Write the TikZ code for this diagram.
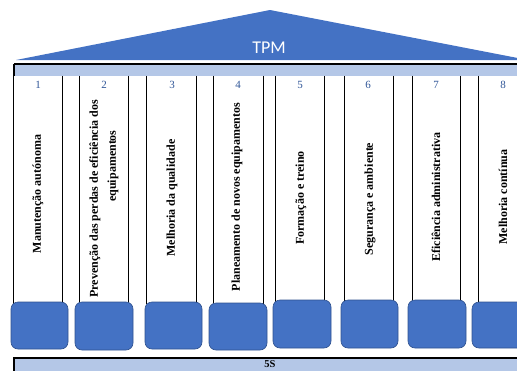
\documentclass[tikz,border=0pt]{standalone}
\usepackage{fontspec}
\setmainfont{Liberation Serif}
\newfontfamily\calibri{Carlito}
\definecolor{roofblue}{HTML}{4472C4}
\definecolor{edgeblue}{HTML}{2F528F}
\definecolor{bandblue}{HTML}{B4C7E7}
\definecolor{numblue}{HTML}{2F5597}
\begin{document}
\begin{tikzpicture}[x=1pt,y=-1pt,
  frame/.style={line width=1.3pt,black},
  post/.style={line width=1.1pt,black},
  base/.style={rectangle,rounded corners=7pt,fill=roofblue,draw=edgeblue,line width=0.6pt,inner sep=0pt},
  num/.style={font=\fontsize{11}{12}\selectfont,text=numblue,inner sep=0pt},
  label/.style={rotate=90,font=\fontsize{12}{14}\selectfont\bfseries,inner sep=0pt},
  pillar/.style={rectangle,inner sep=0pt,minimum height=228pt}]
\useasboundingbox (0,0) rectangle (517,370);
\clip (0,0) rectangle (517,370);

% roof
\fill[roofblue] (16,60) coordinate (eaveL) -- (270,10) coordinate (apex) -- (528,60) coordinate (eaveR) -- cycle;
\node[text=white,font=\calibri\fontsize{18}{20}\selectfont,inner sep=0pt] (tpm) at (269,48) {TPM};

% beam under the roof
\fill[bandblue] (14,64) rectangle (520,76);
\draw[frame] (14,64) coordinate (beamL) -- (520,64) coordinate (beamR);

% pillars
\foreach \i/\a/\b in {1/14/62,2/80/128,3/147/196,4/214/263,5/276/324,6/345/393,7/413/460,8/479/527}{
  \node[pillar,minimum width={\b-\a}] (p\i) at ({(\a+\b)/2},190) {};
  \draw[post] (p\i.north west) -- (p\i.south west) (p\i.north east) -- (p\i.south east);
}

% pillar numbers
\foreach \i/\x in {1/38,2/104,3/172,4/238,5/300,6/368,7/436,8/503}{
  \node[num] (n\i) at (\x,85) {\i};
}

% pillar labels
\node[label] (t1) at (38,194) {Manutenção autónoma};
\node[label] (t2a) at (95,199) {Prevenção das perdas de eficiência dos};
\node[label] (t2b) at (113,166) {equipamentos};
\node[label] (t3) at (172,198) {Melhoria da qualidade};
\node[label] (t4) at (237,197) {Planeamento de novos equipamentos};
\node[label] (t5) at (301,198) {Formação e treino};
\node[label] (t6) at (370,199) {Segurança e ambiente};
\node[label] (t7) at (436,197) {Eficiência administrativa};
\node[label] (t8) at (503,197) {Melhoria contínua};

% pillar bases
\foreach \i/\a/\b/\c/\d in {1/11/68/302/349,2/75/133/302/350,3/145/202/302/349,4/209/267/303/350,5/273/331/300/348,6/341/398/300/348,7/408/466/300/348,8/472/530/302/348}{
  \node[base,minimum width={\b-\a},minimum height={\d-\c}] (b\i) at ({(\a+\b)/2},{(\c+\d)/2}) {};
}

% foundation
\fill[bandblue] (14,358) rectangle (520,375);
\draw[frame] (14,375) -- (14,358) coordinate (footL) -- (520,358) coordinate (footR);
\node[font=\fontsize{10.5}{12}\selectfont\bfseries,inner sep=0pt] (fiveS) at (270,364.2) {5S};
\draw[frame] (beamL) -- (14,76);
\end{tikzpicture}
\end{document}
